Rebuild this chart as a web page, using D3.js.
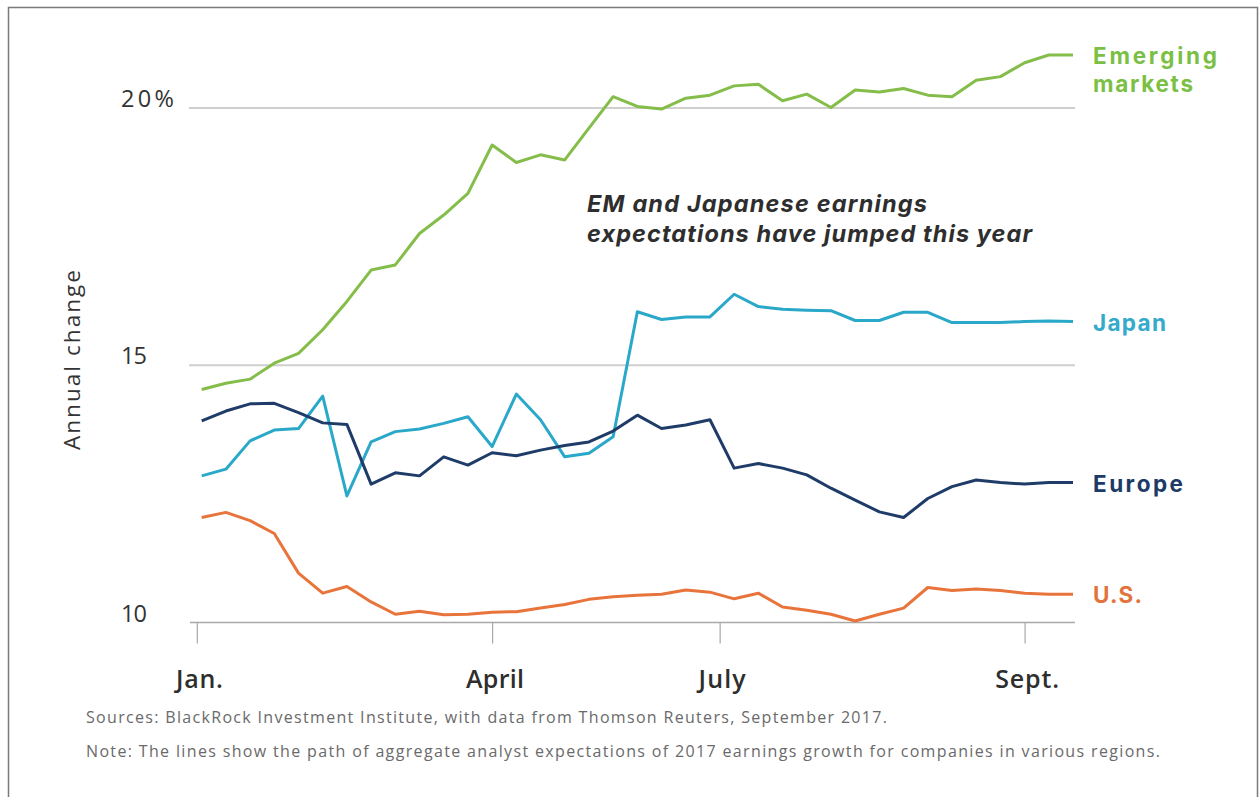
<!DOCTYPE html>
<html>
<head>
<meta charset="utf-8">
<script src="https://cdn.jsdelivr.net/npm/d3@7"></script>
<style>
  html, body { margin: 0; padding: 0; background: #fff; }
  svg { display: block; }
</style>
</head>
<body>
<svg id="chart" width="1259" height="797"></svg>
<script>
// ---- data (weekly observations, index 0..36) ----
const emergingMarkets = [14.53,14.65,14.73,15.04,15.23,15.69,16.24,16.85,16.95,17.56,17.92,18.34,19.28,18.94,19.09,18.99,19.61,20.22,20.03,19.98,20.19,20.25,20.43,20.46,20.14,20.27,20.01,20.35,20.31,20.38,20.25,20.22,20.54,20.61,20.88,21.03,21.03];
const japan = [12.85,12.98,13.53,13.74,13.77,14.40,12.46,13.51,13.71,13.76,13.87,14.00,13.42,14.44,13.94,13.22,13.29,13.61,16.04,15.89,15.94,15.94,16.38,16.14,16.09,16.07,16.06,15.87,15.87,16.03,16.03,15.83,15.83,15.83,15.85,15.86,15.85];
const europe = [13.92,14.11,14.25,14.26,14.08,13.88,13.85,12.69,12.91,12.85,13.22,13.06,13.30,13.24,13.35,13.44,13.51,13.72,14.03,13.77,13.84,13.94,13.00,13.09,13.00,12.87,12.61,12.38,12.15,12.04,12.41,12.64,12.77,12.72,12.69,12.72,12.72];
const us = [12.04,12.14,11.98,11.73,10.96,10.57,10.70,10.40,10.16,10.22,10.15,10.16,10.20,10.21,10.28,10.35,10.45,10.50,10.53,10.55,10.63,10.59,10.46,10.57,10.30,10.24,10.16,10.03,10.16,10.28,10.68,10.62,10.65,10.62,10.57,10.55,10.55];

const seriesNames = ["Emerging markets", "Japan", "Europe", "U.S."];
const xTickLabels = ["Jan.", "April", "July", "Sept."];
const xTickIndex = [-0.2, 12, 21.4, 34];   // position of month ticks on the week index
const yTicks = [10, 15, 20];
const yTickLabels = ["10", "15", "20%"];

const annotationLines = ["EM and Japanese earnings", "expectations have jumped this year"];
const yTitle = "Annual change";
const sourceNote = "Sources: BlackRock Investment Institute, with data from Thomson Reuters, September 2017.";
const note = "Note: The lines show the path of aggregate analyst expectations of 2017 earnings growth for companies in various regions.";

// ---- drawing ----
const svg = d3.select("#chart");
const font = "'Open Sans', Lato, sans-serif";
const tightFont = "Inter, 'Open Sans', sans-serif";   // compact line box for two-line texts

// adjust letter spacing of a text/tspan so that it spans a target width
function spread(sel, target) {
  sel.each(function () {
    const el = d3.select(this);
    const n = this.textContent.length;
    const w = this.getComputedTextLength();
    if (n > 1) el.attr("letter-spacing", ((target - w) / (n - 1)).toFixed(3));
  });
}

// frame
svg.append("rect")
  .attr("x", 8.5).attr("y", 7.5)
  .attr("width", 1249).attr("height", 800)
  .attr("fill", "none").attr("stroke", "#7a7a7a").attr("stroke-width", 1.5);

const x = d3.scaleLinear().domain([-0.4, 36]).range([192, 1073]);
const y = d3.scaleLinear().domain([10, 20]).range([622.5, 108]);

// gridlines
svg.append("g").selectAll("line")
  .data(yTicks.filter(d => d !== 10))
  .join("line")
  .attr("x1", 189).attr("x2", 1075)
  .attr("y1", d => y(d)).attr("y2", d => y(d))
  .attr("stroke", "#cfcfcf").attr("stroke-width", 2);

// x axis
const xAxis = d3.axisBottom(x)
  .tickValues(xTickIndex)
  .tickSize(21)
  .tickFormat(() => "");
const gx = svg.append("g").attr("transform", `translate(0,${y(10)})`).call(xAxis);
gx.select(".domain").attr("stroke", "#a9a9a9").attr("stroke-width", 1.5).attr("d", `M190,0H1075`);
gx.selectAll(".tick line").attr("stroke", "#a9a9a9").attr("stroke-width", 1.2);

const xLabelWidths = [47, 58, 47, 64];
svg.append("g").selectAll("text")
  .data(xTickIndex)
  .join("text")
  .attr("x", d => x(d) + 3)
  .attr("y", 688)
  .attr("text-anchor", "middle")
  .attr("font-family", font)
  .attr("font-size", 25)
  .attr("font-weight", 600)
  .attr("fill", "#2e2e2e")
  .text((d, i) => xTickLabels[i])
  .each(function (d, i) { spread(d3.select(this), xLabelWidths[i]); });

// y tick labels
const yLabelWidths = [26, 26, 53];
svg.append("g").selectAll("text")
  .data(yTicks)
  .join("text")
  .attr("x", 121)
  .attr("y", d => y(d) - 1)
  .attr("font-family", font)
  .attr("font-size", 23.5)
  .attr("fill", "#333")
  .text((d, i) => yTickLabels[i])
  .each(function (d, i) { spread(d3.select(this), yLabelWidths[i]); });

// y title
svg.append("text")
  .attr("transform", "translate(80,359) rotate(-90)")
  .attr("text-anchor", "middle")
  .attr("font-family", font)
  .attr("font-size", 22.5)
  .attr("fill", "#333")
  .text(yTitle)
  .call(spread, 180);

// lines
const line = d3.line().x((d, i) => x(i)).y(d => y(d));
const series = [
  { name: seriesNames[0], values: emergingMarkets, stroke: "#84bd4a", text: "#7cbf45" },
  { name: seriesNames[1], values: japan, stroke: "#2aa8c9", text: "#35aacb" },
  { name: seriesNames[2], values: europe, stroke: "#1f3c68", text: "#1e3a66" },
  { name: seriesNames[3], values: us, stroke: "#e8743b", text: "#e3733d" }
];

svg.append("g").selectAll("path")
  .data(series)
  .join("path")
  .attr("d", d => line(d.values))
  .attr("fill", "none")
  .attr("stroke", d => d.stroke)
  .attr("stroke-width", 3)
  .attr("stroke-linejoin", "round");

// series labels
const labelWidths = { "Emerging": 124, "markets": 100, "Japan": 73, "Europe": 90, "U.S.": 49 };
const labels = svg.append("g");
series.forEach(s => {
  const last = s.values[s.values.length - 1];
  const words = s.name === "Emerging markets" ? ["Emerging", "markets"] : [s.name];
  const t = labels.append("text")
    .attr("x", x(36) + 20)
    .attr("y", y(last) + 9)
    .attr("font-family", tightFont)
    .attr("font-size", 22.5)
    .attr("font-weight", 700)
    .attr("fill", s.text);
  words.forEach((w, i) => {
    t.append("tspan")
      .attr("x", x(36) + 20)
      .attr("dy", i === 0 ? 0 : 28)
      .text(w)
      .call(spread, labelWidths[w]);
  });
});

// annotation
const annWidths = [340, 445];
const ann = svg.append("text")
  .attr("x", 587).attr("y", 212)
  .attr("font-family", tightFont)
  .attr("font-size", 23.5)
  .attr("font-weight", 700)
  .attr("font-style", "italic")
  .attr("fill", "#2e2e2e");
annotationLines.forEach((l, i) => {
  ann.append("tspan")
    .attr("x", 587)
    .attr("dy", i === 0 ? 0 : 30)
    .text(l)
    .call(spread, annWidths[i]);
});

// footnotes
svg.append("text")
  .attr("x", 86).attr("y", 723)
  .attr("font-family", font)
  .attr("font-size", 16)
  .attr("fill", "#6a6a6a")
  .text(sourceNote)
  .call(spread, 801);
svg.append("text")
  .attr("x", 86).attr("y", 757)
  .attr("font-family", font)
  .attr("font-size", 16)
  .attr("fill", "#6a6a6a")
  .text(note)
  .call(spread, 1074);
</script>
</body>
</html>
